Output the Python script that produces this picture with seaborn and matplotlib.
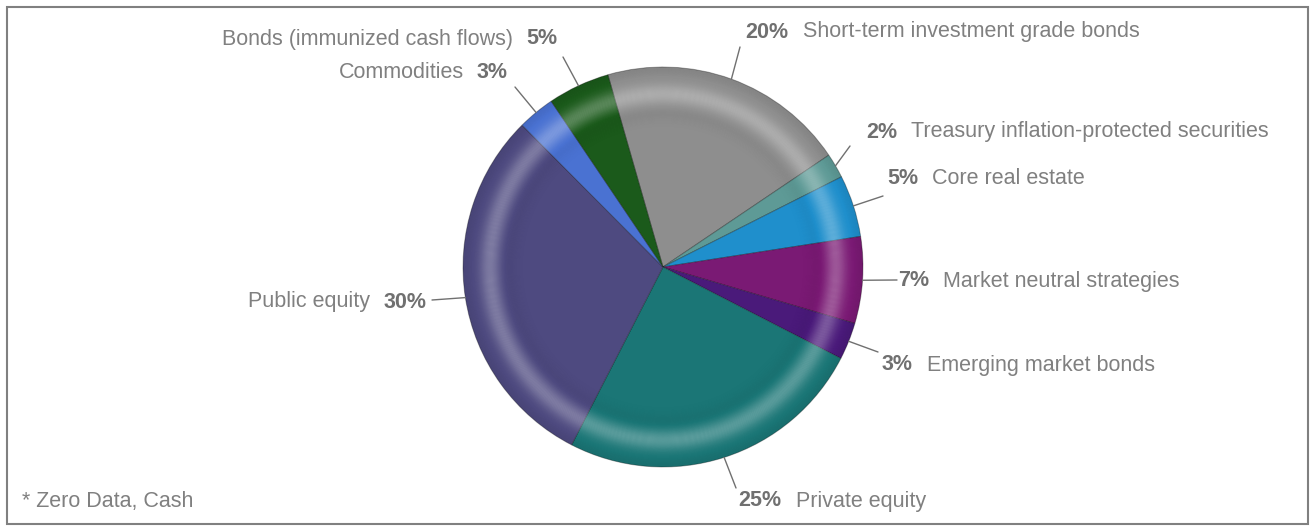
import numpy as np
import matplotlib
matplotlib.use("Agg")
import matplotlib.pyplot as plt
import seaborn as sns
from matplotlib.patches import Wedge, Rectangle

sns.set_theme(style="white")
plt.rcParams["font.family"] = ["Liberation Sans", "DejaVu Sans"]

# Data (clockwise from the top-left boundary)
labels = ["Short-term investment grade bonds", "Treasury inflation-protected securities",
          "Core real estate", "Market neutral strategies", "Emerging market bonds",
          "Private equity", "Public equity", "Commodities", "Bonds (immunized cash flows)"]
shares = [20, 2, 5, 7, 3, 25, 30, 3, 5]
colors = ["#8e8e8e", "#5e9a96", "#1f8fcc", "#7a1a74", "#4a1a7a",
          "#1b7676", "#4e4a80", "#4a72d2", "#1b5a1b"]
footnote = "* Zero Data, Cash"

# label layout in pixel coords (y from top): line end, text x, text y, side
label_pos = [
    ((740, 47), 745, 32, "r"),
    ((850, 146), 866, 132, "r"),
    ((883, 196), 887, 179, "r"),
    ((897, 280), 898, 281, "r"),
    ((878, 352), 882, 365, "r"),
    ((736, 488), 738, 501, "r"),
    ((432, 300), 427, 302, "l"),
    ((515, 87), 508, 72, "l"),
    ((563, 57), 557, 39, "l"),
]

W, H = 1315, 527
fig = plt.figure(figsize=(W / 100, H / 100), dpi=100)
ax = fig.add_axes([0, 0, 1, 1])
cx, cy, R = 663, H - 267, 200

wedges, _ = ax.pie(shares, colors=colors, startangle=106, counterclock=False,
                   center=(cx, cy), radius=R, frame=True,
                   wedgeprops=dict(edgecolor=(0, 0, 0, 0.3), linewidth=0.7))

# glossy ring highlight
rs = np.linspace(0.70, 1.0, 60)
for r0, r1 in zip(rs[:-1], rs[1:]):
    rm = (r0 + r1) / 2
    a = 0.28 * np.exp(-((rm - 0.865) / 0.05) ** 2)
    a -= 0.04 * np.exp(-((rm - 0.77) / 0.04) ** 2)
    a -= 0.06 * np.exp(-((rm - 1.0) / 0.04) ** 2)
    col = (1, 1, 1, a) if a > 0 else (0, 0, 0, -a)
    ax.add_patch(Wedge((cx, cy), R * r1, 0, 360, width=R * (r1 - r0),
                       facecolor=col, edgecolor="none"))

txt_col = "#808080"
pct_col = "#707070"
fs = 15.5
for w, lab, s, (end, tx, ty, side) in zip(wedges, labels, shares, label_pos):
    ang = np.deg2rad((w.theta1 + w.theta2) / 2)
    sx, sy = cx + R * np.cos(ang), cy + R * np.sin(ang)
    ax.plot([sx, end[0]], [sy, H - end[1]], color="#707070", lw=1)
    pct = f"{s}%"
    if side == "r":
        ax.text(tx, H - ty, pct, ha="left", va="center", fontsize=fs,
                fontweight="bold", color=pct_col)
        off = 45 if s < 10 else 58
        ax.text(tx + off, H - ty, lab, ha="left", va="center", fontsize=fs, color=txt_col)
    else:
        ax.text(tx, H - ty, pct, ha="right", va="center", fontsize=fs,
                fontweight="bold", color=pct_col)
        off = 44 if s < 10 else 57
        ax.text(tx - off, H - ty, lab, ha="right", va="center", fontsize=fs, color=txt_col)

ax.text(22, H - 501, footnote, ha="left", va="center", fontsize=fs, color=txt_col)
ax.add_patch(Rectangle((7, H - 524), 1301, 517, fill=False, edgecolor="#808080", lw=1.5))

ax.set_xlim(0, W)
ax.set_ylim(0, H)
ax.set_aspect("auto")
ax.axis("off")
fig.savefig("out.png", dpi=100)
